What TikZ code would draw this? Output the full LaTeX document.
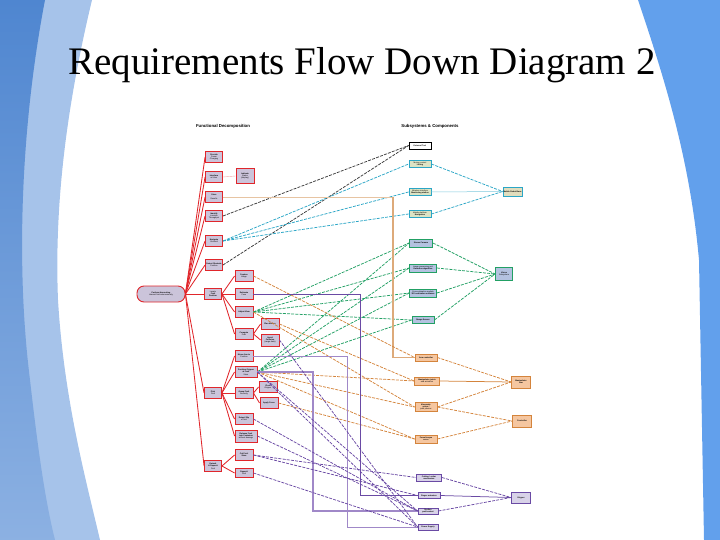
\documentclass[tikz,border=0pt]{standalone}
\usepackage{fontspec}
\setmainfont{Liberation Serif}
\setsansfont{Liberation Sans}
\definecolor{redc}{HTML}{E0262B}
\definecolor{lav}{HTML}{CBC4DA}
\definecolor{cyanc}{HTML}{2BA6C6}
\definecolor{cyfill}{HTML}{DCE3C4}
\definecolor{greenc}{HTML}{22A064}
\definecolor{grfill}{HTML}{B4C2E0}
\definecolor{orc}{HTML}{D4843C}
\definecolor{orfill}{HTML}{F5C6A0}
\definecolor{tanc}{HTML}{DDAA7A}
\definecolor{purc}{HTML}{6A4AA4}
\definecolor{purl}{HTML}{A088C8}
\definecolor{pufill}{HTML}{D8D2E8}
\definecolor{blkc}{HTML}{3A3A3A}
\definecolor{bgdark}{HTML}{4F86D0}
\definecolor{bglight}{HTML}{A6C3EA}
\definecolor{bgright}{HTML}{62A0EC}
\begin{document}
\begin{tikzpicture}[x=1pt,y=-1pt,
  lbl/.style={font=\sffamily\fontsize{2}{2.3}\selectfont, align=center, inner sep=0pt},
  fd/.style={lbl, draw=redc, fill=lav, line width=0.9pt, minimum width=17pt, minimum height=11pt},
  sc/.style={lbl, draw=cyanc, fill=cyfill, line width=0.8pt, minimum width=22pt, minimum height=7pt},
  sg/.style={lbl, draw=greenc, fill=grfill, line width=0.8pt, minimum width=23pt, minimum height=8pt},
  so/.style={lbl, draw=orc, fill=orfill, line width=0.8pt, minimum width=22pt, minimum height=8pt},
  sp/.style={lbl, draw=purc, fill=pufill, line width=0.8pt, minimum width=22pt, minimum height=6pt},
  rl/.style={draw=redc, line width=0.85pt},
  dl/.style={dash pattern=on 3pt off 1.2pt, line width=0.75pt},
  hdr/.style={font=\sffamily\bfseries\fontsize{4.3}{5}\selectfont, inner sep=0pt}
]
\useasboundingbox (0,0) rectangle (720,540);
% background shapes
\fill[bglight] (0,0) -- (92,0) .. controls (68,100) and (54,200) .. (58,300) .. controls (64,400) and (86,480) .. (100,540) -- (0,540) -- cycle;
\shade[top color=bgdark, bottom color=bglight!70!bgdark] (0,0) -- (45,0) .. controls (22,120) and (15,260) .. (30,380) .. controls (38,450) and (45,500) .. (55,540) -- (0,540) -- cycle;
\fill[bgright] (638,0) -- (720,0) -- (720,540) -- (704,540) -- (699,260) .. controls (690,160) and (665,80) .. (638,0) -- cycle;
% title
\node[font=\fontsize{39}{41}\selectfont, anchor=base, inner sep=0pt] (title) at (362,75) {Requirements Flow Down Diagram 2};
% headers
\node[hdr] (h1) at (223,126) {Functional Decomposition};
\node[hdr] (h2) at (430,126) {Subsystems \& Components};
% functional decomposition
\node[fd, minimum width=48pt, minimum height=16pt, rounded corners=7pt] (root) at (161,294) {\textbf{Perform Harvesting}\\Harvest fruit autonomously};
\node[fd] (a1) at (214,157) {\textbf{Provide}\\Power\\Charging};
\node[fd] (a2) at (214,177) {\textbf{Interface}\\w/ User};
\node[fd] (a3) at (214,197) {\textbf{Store}\\\\Results};
\node[fd] (a4) at (214,216) {\textbf{Identify}\\Location\\Throughput};
\node[fd] (a5) at (214,241) {\textbf{Navigate}\\Orchard};
\node[fd] (a6) at (214,265) {\textbf{Detect Obstacle}\\Position};
\node[fd] (a7) at (213,294) {Locate\\\textbf{Fruit}\\\textbf{Position}};
\node[fd] (a8) at (213,393) {\textbf{Pick}\\Fruit};
\node[fd] (a9) at (213,466) {\textbf{Detach}\\\textbf{\& Deposit}\\Fruit};
\node[fd, minimum width=18pt, minimum height=15pt] (x1) at (245,176) {\textbf{Indicate}\\Status\\(display)};
\node[fd, minimum width=18pt] (b1) at (244,276) {\textbf{Capture}\\Image};
\node[fd, minimum width=18pt] (b2) at (244,294) {\textbf{Estimate}\\Pose};
\node[fd, minimum width=18pt] (b3) at (244,312) {\textbf{Adjust View}};
\node[fd, minimum width=18pt] (b4) at (244,334) {\textbf{Compute}\\Path};
\node[fd, minimum width=18pt] (c1) at (270,324) {\textbf{Plan Motion}};
\node[fd, minimum width=18pt, minimum height=12pt] (c2) at (270,340) {\textbf{Avoid}\\\textbf{Collision}\\(range data)};
\node[fd, minimum width=18pt] (b5) at (244,356) {\textbf{Move Arm to}\\Position};
\node[fd, minimum width=22pt] (b6) at (246,372) {\textbf{Position Gripper}\\\textbf{at Fruit}\\Stem};
\node[fd, minimum width=18pt] (b7) at (244,393) {\textbf{Grasp Fruit}\\Securely};
\node[fd, minimum width=18pt] (c3) at (268,387) {\textbf{Close}\\Gripper};
\node[fd, minimum width=18pt] (c4) at (269,403) {\textbf{Apply Force}};
\node[fd, minimum width=18pt] (b8) at (244,419) {\textbf{Detect Slip}\\of fruit};
\node[fd, minimum width=22pt, minimum height=12pt] (b9) at (246,436) {\textbf{Release Fruit}\\\textbf{into Container}\\without damage};
\node[fd, minimum width=18pt] (b10) at (244,455) {\textbf{Cut Fruit}\\\textbf{Stem}};
\node[fd, minimum width=18pt, minimum height=9pt] (b11) at (244,473) {\textbf{Deposit}\\Fruit};
% red tree
\foreach \n in {a1,a2,a3,a4,a5,a6,a7,a8,a9} \draw[rl] (root.east) -- (\n.west);
\foreach \n in {b1,b2,b3,b4} \draw[rl] (a7.east) -- (\n.west);
\foreach \n in {c1,c2} \draw[rl] (b4.east) -- (\n.west);
\foreach \n in {b5,b6,b7,b8,b9} \draw[rl] (a8.east) -- (\n.west);
\foreach \n in {c3,c4} \draw[rl] (b7.east) -- (\n.west);
\foreach \n in {b10,b11} \draw[rl] (a9.east) -- (\n.west);
\draw[redc!40, line width=0.4pt] (a2.east) -- (x1.west);
% subsystems
\node[lbl, draw=black, fill=white, line width=0.7pt, minimum width=22pt, minimum height=7pt] (k0) at (420,145.5) {\textbf{External Tool}};
\node[sc] (s1) at (420,164) {Motion control\\\textbf{Lifting}};
\node[sc] (s2) at (420,192) {Wireless interface\\\textbf{Monitoring station}};
\node[sc] (s3) at (420,214) {Mobile platform\\\textbf{Navigation}};
\node[sc, minimum width=19pt, minimum height=9pt, fill=cyfill!80!orfill] (S) at (512.5,191.5) {\textbf{Mobile Robot Base}};
\node[sg] (g1) at (421,243) {\textbf{Stereo Camera}};
\node[sg, minimum width=27pt] (g2) at (423,268) {Image processing unit\\\textbf{Detection algorithm}};
\node[sg, minimum width=27pt] (g3) at (423,293) {Pose estimation module\\\textbf{3D localization software}};
\node[sg, minimum width=22pt, minimum height=7pt] (g4) at (423,320) {\textbf{Range Sensor}};
\node[sg, minimum width=17pt, minimum height=13pt] (G) at (504,274) {\textbf{Vision}\\Subsystem};
\node[so, minimum height=7pt] (o1) at (426,357.5) {\textbf{Arm controller}};
\node[so, minimum width=25pt] (o2) at (427,381) {\textbf{Manipulator joints}\\and actuators};
\node[so, minimum height=9pt] (o3) at (426,407) {\textbf{Kinematic}\\\textbf{solver /}\\path planner};
\node[so] (o4) at (426,439) {\textbf{Force/torque}\\sensor};
\node[so, minimum width=19pt, minimum height=12pt] (O1) at (521,382) {\textbf{Manipulator}\\\textbf{Arm}};
\node[so, minimum width=19pt, minimum height=12pt] (O2) at (522,421) {\textbf{Controller}};
\node[sp, minimum width=25pt, minimum height=7pt] (p1) at (429,477.5) {\textbf{Cutting / cutter}\\\textbf{mechanism}};
\node[sp, minimum height=5.5pt] (p2) at (429,495.5) {\textbf{Finger actuators}};
\node[sp, minimum width=20pt] (p3) at (428,511) {\textbf{Suction}\\\textbf{pad/contact}};
\node[sp, minimum width=20pt] (p4) at (428,527) {\textbf{Power Supply}};
\node[sp, minimum width=19pt, minimum height=11pt] (P) at (521,497.5) {\textbf{Gripper}};
% right-hand merges
\draw[dl, cyanc] (s1.east) -- (S.west);
\draw[cyanc!60, line width=0.5pt] (s2.east) -- (S.west);
\draw[dl, cyanc] (s3.east) -- (S.west);
\foreach \n in {g1,g2,g3,g4} \draw[dl, greenc] (\n.east) -- (G.west);
\draw[dl, orc] (o1.east) -- (O1.west);
\draw[orc, line width=0.75pt] (o2.east) -- (O1.west);
\draw[dl, orc] (o3.east) -- (O1.west);
\draw[dl, orc] (o3.east) -- (O2.west);
\draw[dl, orc] (o4.east) -- (O2.west);
\draw[dl, purc] (p1.east) -- (P.west);
\draw[purc, line width=0.75pt] (p2.east) -- (P.west);
\draw[dl, purc] (p3.east) -- (P.west);
% cross links
\draw[dl, blkc] (a4.east) -- (k0.west);
\draw[dl, blkc] (a6.east) -- (k0.west);
\foreach \n in {s1,s2,s3} \draw[dl, cyanc] (a5.east) -- (\n.west);
\foreach \n in {g1,g2,g3,g4} {\draw[dl, greenc] (b3.east) -- (\n.west); \draw[dl, greenc] (b6.east) -- (\n.west);}
\coordinate (t1) at (393,197);
\coordinate (t2) at (393,357.5);
\draw[tanc!70, line width=0.5pt] (a3.east) -- (t1);
\draw[tanc, line width=1.3pt] (t1) -- (t2) -- (o1.west);
\draw[dl, orc] (b1.east) -- (o1.west);
\draw[dl, orc] (c1.east) -- (o2.west);
\draw[dl, orc] (b6.east) -- (o2.west);
\draw[dl, orc] (b3.east) -- (o3.west);
\draw[dl, orc] (b6.east) -- (o3.west);
\draw[dl, orc] (b6.east) -- (o4.west);
\draw[dl, orc] (c4.east) -- (o4.west);
\coordinate (f1) at (313,372);
\coordinate (f2) at (313,511);
\coordinate (v1) at (360,294);
\coordinate (v2) at (360,495.5);
\coordinate (w1) at (347,356);
\coordinate (w2) at (347,527);
\draw[purl, line width=1.2pt] (b6.east) -- (f1) -- (f2) -- (p3.west);
\draw[purc, line width=0.9pt] (b2.east) -- (v1) -- (v2) -- (p2.west);
\draw[purl, line width=1pt] (b5.east) -- (w1) -- (w2) -- (p4.west);
\draw[dl, purc] (b10.east) -- (p1.west);
\draw[dl, purc] (b10.east) -- (p2.west);
\draw[dl, purc] (b8.east) -- (p3.west);
\draw[dl, purc] (b9.east) -- (p3.west);
\draw[dl, purc] (b11.east) -- (p4.west);
\draw[dl, purc] (c2.east) -- (p4.west);
\draw[dl, purc] (b6.east) -- (p3.west);
\draw[dl, purc] (b6.east) -- (p4.west);
\end{tikzpicture}
\end{document}
